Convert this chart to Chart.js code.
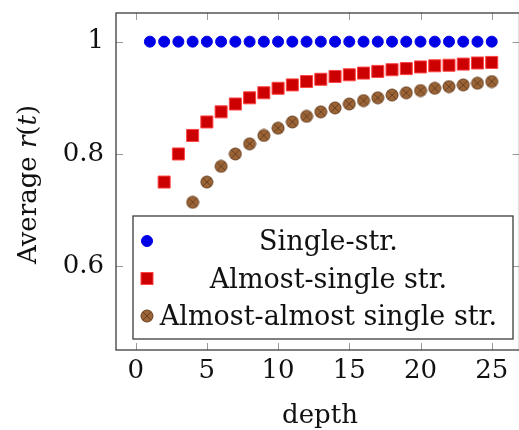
<!DOCTYPE html>
<html>
<head>
<meta charset="utf-8">
<script src="https://cdn.jsdelivr.net/npm/chart.js@4/dist/chart.umd.min.js"></script>
<style>
  html, body { margin: 0; padding: 0; background: #fff; overflow: hidden; }
  #wrap { width: 540px; height: 430px; }
</style>
</head>
<body>
<div id="wrap"><canvas id="rChart" width="540" height="430"></canvas></div>
<script>
// values
const depthSingle = [1, 2, 3, 4, 5, 6, 7, 8, 9, 10, 11, 12, 13, 14, 15, 16, 17, 18, 19, 20, 21, 22, 23, 24, 25];
const singleStr = [1, 1, 1, 1, 1, 1, 1, 1, 1, 1, 1, 1, 1, 1, 1, 1, 1, 1, 1, 1, 1, 1, 1, 1, 1];

const depthAlmost = [2, 3, 4, 5, 6, 7, 8, 9, 10, 11, 12, 13, 14, 15, 16, 17, 18, 19, 20, 21, 22, 23, 24, 25];
const almostSingle = [0.75, 0.8, 0.833, 0.857, 0.875, 0.889, 0.9, 0.909, 0.917, 0.923, 0.929, 0.933,
  0.938, 0.941, 0.944, 0.947, 0.95, 0.952, 0.955, 0.957, 0.958, 0.96, 0.962, 0.963];

const depthAlmostAlmost = [4, 5, 6, 7, 8, 9, 10, 11, 12, 13, 14, 15, 16, 17, 18, 19, 20, 21, 22, 23, 24, 25];
const almostAlmost = [0.714, 0.75, 0.778, 0.8, 0.818, 0.833, 0.846, 0.857, 0.867, 0.875, 0.882,
  0.889, 0.895, 0.9, 0.905, 0.909, 0.913, 0.917, 0.92, 0.923, 0.926, 0.929];

const seriesLabels = ["Single-str.", "Almost-single str.", "Almost-almost single str."];
const xTicks = [0, 5, 10, 15, 20, 25];
const yTicks = [0.6, 0.8, 1];

const SERIF = "'DejaVu Serif', 'Liberation Serif', serif";
const FONT_PX = 26;
const LEGEND_PX = 27;

function toPoints(xs, ys) {
  return xs.map((x, i) => ({ x: x, y: ys[i] }));
}

// otimes* style marker (filled circle with an x)
function makeOtimes() {
  const c = document.createElement("canvas");
  c.width = 14;
  c.height = 14;
  const g = c.getContext("2d");
  g.beginPath();
  g.arc(7, 7, 6, 0, Math.PI * 2);
  g.fillStyle = "#9a6436";
  g.fill();
  g.lineWidth = 1;
  g.strokeStyle = "#6a4020";
  g.stroke();
  const d = 6 * Math.SQRT1_2;
  g.beginPath();
  g.moveTo(7 - d, 7 - d);
  g.lineTo(7 + d, 7 + d);
  g.moveTo(7 + d, 7 - d);
  g.lineTo(7 - d, 7 + d);
  g.stroke();
  return c;
}

// frame, inward ticks, axis titles and the boxed legend
const decorations = {
  id: "decorations",
  afterDraw(chart) {
    const ctx = chart.ctx;
    const a = chart.chartArea;
    const xs = chart.scales.x;
    const ys = chart.scales.y;
    ctx.save();

    ctx.strokeStyle = "#9a9a9a";
    ctx.lineWidth = 1;
    ctx.beginPath();
    xTicks.forEach((v) => {
      const px = Math.round(xs.getPixelForValue(v)) + 0.5;
      ctx.moveTo(px, a.bottom);
      ctx.lineTo(px, a.bottom - 7);
      ctx.moveTo(px, a.top);
      ctx.lineTo(px, a.top + 7);
    });
    yTicks.forEach((v) => {
      const py = Math.round(ys.getPixelForValue(v)) + 0.5;
      ctx.moveTo(a.left, py);
      ctx.lineTo(a.left + 7, py);
      ctx.moveTo(a.right, py);
      ctx.lineTo(a.right - 7, py);
    });
    ctx.stroke();

    ctx.strokeStyle = "#3c3c3c";
    ctx.lineWidth = 1.3;
    ctx.strokeRect(a.left, a.top, a.right - a.left, a.bottom - a.top);

    // x title
    ctx.fillStyle = "#111";
    ctx.font = FONT_PX + "px " + SERIF;
    ctx.textAlign = "center";
    ctx.textBaseline = "alphabetic";
    ctx.fillText("depth", 320, 423);

    // y title with italic r and t
    const parts = [
      ["Average ", false], ["r", true], ["(", false], ["t", true], [")", false]
    ];
    const fontOf = (it) => (it ? "italic " : "") + FONT_PX + "px " + SERIF;
    let total = 0;
    parts.forEach((p) => { ctx.font = fontOf(p[1]); total += ctx.measureText(p[0]).width; });
    ctx.translate(36, 184.5);
    ctx.rotate(-Math.PI / 2);
    ctx.textAlign = "left";
    let cx = -total / 2;
    parts.forEach((p) => {
      ctx.font = fontOf(p[1]);
      ctx.fillText(p[0], cx, 0);
      cx += ctx.measureText(p[0]).width;
    });
    ctx.setTransform(1, 0, 0, 1, 0, 0);

    // legend box
    const box = { left: 133, top: 216, right: 513, bottom: 339 };
    ctx.fillStyle = "#fff";
    ctx.fillRect(box.left, box.top, box.right - box.left, box.bottom - box.top);
    ctx.strokeStyle = "#3c3c3c";
    ctx.lineWidth = 1.3;
    ctx.strokeRect(box.left, box.top, box.right - box.left, box.bottom - box.top);

    const rows = [241, 278.5, 316];
    chart.data.datasets.forEach((ds, i) => {
      const y = rows[i];
      const mx = 147;
      ctx.lineWidth = ds.borderWidth || 1;
      if (ds.pointStyle === "circle") {
        ctx.beginPath();
        ctx.arc(mx, y, ds.pointRadius, 0, Math.PI * 2);
        ctx.fillStyle = ds.backgroundColor;
        ctx.fill();
        ctx.strokeStyle = ds.borderColor;
        ctx.stroke();
      } else if (ds.pointStyle === "rect") {
        const s = ds.pointRadius * Math.SQRT1_2;
        ctx.fillStyle = ds.backgroundColor;
        ctx.fillRect(mx - s, y - s, 2 * s, 2 * s);
        ctx.strokeStyle = ds.borderColor;
        ctx.strokeRect(mx - s, y - s, 2 * s, 2 * s);
      } else {
        const img = ds.pointStyle;
        ctx.drawImage(img, mx - img.width / 2, y - img.height / 2);
      }
      ctx.fillStyle = "#111";
      ctx.font = LEGEND_PX + "px " + SERIF;
      ctx.textAlign = "center";
      ctx.textBaseline = "alphabetic";
      ctx.fillText(ds.label, 328.5, y + 9);
    });

    ctx.restore();
  }
};

function build() {
  const otimes = makeOtimes();
  new Chart(document.getElementById("rChart"), {
    type: "scatter",
    data: {
      datasets: [
        {
          label: seriesLabels[0],
          data: toPoints(depthSingle, singleStr),
          pointStyle: "circle",
          pointRadius: 5.5,
          backgroundColor: "#0000e6",
          borderColor: "#0000e6",
          borderWidth: 1,
        },
        {
          label: seriesLabels[1],
          data: toPoints(depthAlmost, almostSingle),
          pointStyle: "rect",
          pointRadius: 8.5,
          backgroundColor: "#cc0000",
          borderColor: "#ff4444",
          borderWidth: 1,
        },
        {
          label: seriesLabels[2],
          data: toPoints(depthAlmostAlmost, almostAlmost),
          pointStyle: otimes,
          pointRadius: 6,
          backgroundColor: "#9a6436",
          borderColor: "#6a4020",
          borderWidth: 1,
        },
      ],
    },
    options: {
      responsive: false,
      animation: false,
      layout: { padding: { top: 13, right: 20.5, left: 0, bottom: 0 } },
      plugins: { legend: { display: false }, tooltip: { enabled: false } },
      scales: {
        x: {
          type: "linear",
          min: -1.38,
          max: 26.95,
          afterBuildTicks: (s) => { s.ticks = xTicks.map((v) => ({ value: v })); },
          afterFit: (s) => { s.height = 80; s.paddingLeft = 0; s.paddingRight = 0; },
          grid: { display: false, drawTicks: false },
          border: { display: false },
          ticks: {
            padding: 6,
            color: "#111",
            font: { family: SERIF, size: FONT_PX },
            callback: (v) => String(v),
          },
        },
        y: {
          type: "linear",
          min: 0.451,
          max: 1.051,
          afterBuildTicks: (s) => { s.ticks = yTicks.map((v) => ({ value: v })); },
          afterFit: (s) => { s.width = 116; s.paddingTop = 0; s.paddingBottom = 0; },
          grid: { display: false, drawTicks: false },
          border: { display: false },
          ticks: {
            padding: 12,
            color: "#111",
            font: { family: SERIF, size: FONT_PX },
            callback: (v) => String(v),
          },
        },
      },
    },
    plugins: [decorations],
  });
}

build();
</script>
</body>
</html>
